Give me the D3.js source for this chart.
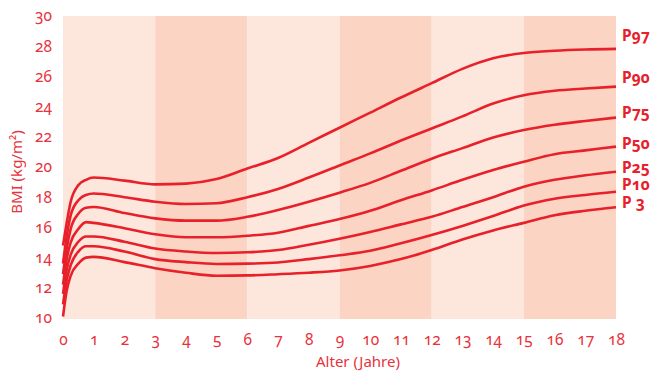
<!DOCTYPE html>
<html><head><meta charset="utf-8">
<script src="https://cdn.jsdelivr.net/npm/d3@7"></script>
<style>
body{margin:0;background:#fff;}
svg text{font-family:"Noto Sans","Open Sans",sans-serif;}
</style></head>
<body><svg id="chart" width="653" height="371"></svg>
<script>
const ages = [0, 0.12, 0.25, 0.5, 0.75, 1, 2, 3, 4, 5, 6, 7, 8, 9, 10, 11, 12, 13, 14, 15, 16, 17, 18];
const p97 = [14.8, 16.3, 17.7, 18.8, 19.15, 19.3, 19.1, 18.85, 18.9, 19.2, 19.9, 20.6, 21.6, 22.6, 23.6, 24.6, 25.55, 26.5, 27.2, 27.55, 27.7, 27.78, 27.82];
const p90 = [13.6, 15.4, 16.8, 17.8, 18.15, 18.25, 18.0, 17.7, 17.55, 17.6, 18.0, 18.55, 19.3, 20.1, 20.9, 21.75, 22.55, 23.35, 24.2, 24.75, 25.05, 25.2, 25.32];
const p75 = [12.9, 14.6, 15.9, 16.9, 17.3, 17.35, 16.95, 16.6, 16.45, 16.45, 16.7, 17.15, 17.7, 18.3, 18.95, 19.75, 20.55, 21.25, 21.95, 22.45, 22.8, 23.05, 23.27];
const p50 = [12.2, 13.9, 15.0, 15.9, 16.35, 16.3, 15.95, 15.55, 15.35, 15.35, 15.45, 15.65, 16.1, 16.55, 17.1, 17.8, 18.45, 19.15, 19.8, 20.35, 20.85, 21.1, 21.35];
const p25 = [11.6, 13.2, 14.2, 15.05, 15.4, 15.4, 15.05, 14.6, 14.4, 14.3, 14.35, 14.5, 14.85, 15.25, 15.7, 16.2, 16.7, 17.35, 18.0, 18.7, 19.15, 19.45, 19.69];
const p10 = [10.9, 12.5, 13.5, 14.4, 14.75, 14.75, 14.4, 13.9, 13.7, 13.58, 13.6, 13.68, 13.9, 14.15, 14.45, 14.95, 15.5, 16.1, 16.75, 17.45, 17.9, 18.15, 18.36];
const p3  = [10.1, 11.8, 12.8, 13.6, 14.0, 14.05, 13.7, 13.3, 13.0, 12.8, 12.82, 12.9, 13.0, 13.15, 13.45, 13.9, 14.5, 15.2, 15.8, 16.3, 16.8, 17.1, 17.33];
const seriesNames = ["P97", "P90", "P75", "P50", "P25", "P10", "P 3"];
const seriesValues = [p97, p90, p75, p50, p25, p10, p3];
const labelValues = [28.68, 25.89, 23.58, 21.52, 19.93, 18.81, 17.62];
const bandStarts = [0, 3, 6, 9, 12, 15];
const xTicks = d3.range(0, 19, 1);
const yTicks = d3.range(10, 31, 2);

const red = "#e8202a", txt = "#e8323c";
const svg = d3.select("#chart");
const x = d3.scaleLinear().domain([0, 18]).range([63, 616]);
const y = d3.scaleLinear().domain([10, 30]).range([318, 16]);

svg.append("g").selectAll("rect").data(bandStarts).join("rect")
  .attr("x", d => x(d)).attr("width", d => x(d + 3) - x(d))
  .attr("y", y(30)).attr("height", y(10) - y(30) + 1)
  .attr("fill", (d, i) => i % 2 ? "#fbd4c3" : "#fde6dc");

const line = d3.line().x((d, i) => x(ages[i])).y(d => y(d)).curve(d3.curveMonotoneX);
svg.append("g").selectAll("path").data(seriesValues).join("path")
  .attr("d", line).attr("fill", "none").attr("stroke", red)
  .attr("stroke-width", 2.6).attr("stroke-linejoin", "round");

const yAxis = svg.append("g").attr("transform", "translate(56,0)")
  .call(d3.axisLeft(y).tickValues(yTicks).tickSize(0).tickPadding(4));
yAxis.select(".domain").remove();
yAxis.selectAll("text").attr("fill", txt).attr("font-size", 15.5)
  .style("font-variant-numeric", "oldstyle-nums");

const xAxis = svg.append("g").attr("transform", "translate(0,331)")
  .call(d3.axisBottom(x).tickValues(xTicks).tickSize(0).tickPadding(3));
xAxis.select(".domain").remove();
xAxis.selectAll("text").attr("fill", txt).attr("font-size", 15.5)
  .style("font-variant-numeric", "oldstyle-nums");

svg.append("text").attr("x", 358).attr("y", 367).attr("text-anchor", "middle")
  .attr("fill", txt).attr("font-size", 15).text("Alter (Jahre)");
svg.append("text").attr("transform", "translate(22,172) rotate(-90)")
  .attr("text-anchor", "middle").attr("fill", txt).attr("font-size", 15)
  .text("BMI (kg/m²)");

svg.append("g").selectAll("text").data(seriesNames).join("text")
  .attr("x", 622).attr("y", (d, i) => y(labelValues[i])).attr("dy", "0.3em")
  .attr("fill", red).attr("font-size", 15.5).attr("font-weight", "bold")
  .style("font-variant-numeric", "oldstyle-nums").text(d => d);
</script></body></html>
